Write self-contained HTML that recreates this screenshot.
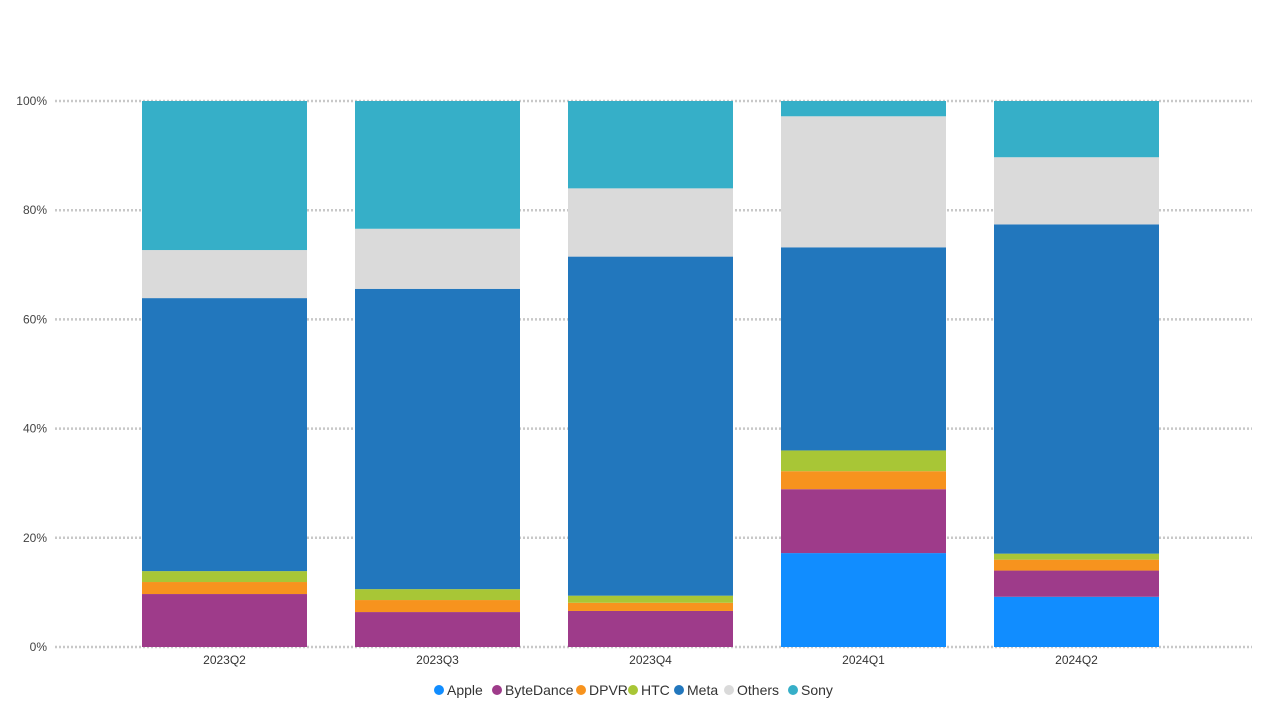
<!DOCTYPE html>
<html><head><meta charset="utf-8"><style>
html,body{margin:0;padding:0;background:#fff;width:1262px;height:720px;overflow:hidden;font-family:"Liberation Sans",sans-serif}
</style></head><body>
<svg id="chart" width="1262" height="720" xmlns="http://www.w3.org/2000/svg"></svg>
<script>
const categories = ["2023Q2","2023Q3","2023Q4","2024Q1","2024Q2"];
const seriesNames = ["Apple","ByteDance","DPVR","HTC","Meta","Others","Sony"];
const apple     = [0, 0, 0, 17.2, 9.2];
const bytedance = [9.7, 6.4, 6.6, 11.7, 4.8];
const dpvr      = [2.2, 2.2, 1.5, 3.3, 2.0];
const htc       = [2.0, 2.0, 1.3, 3.8, 1.1];
const meta      = [50.0, 55.0, 62.1, 37.2, 60.3];
const others    = [8.8, 11.0, 12.5, 24.0, 12.3];
const sony      = [27.3, 23.4, 16.0, 2.8, 10.3];
const tickLabels = ["0%","20%","40%","60%","80%","100%"];
const tickValues = [0,20,40,60,80,100];
const seriesData = [apple, bytedance, dpvr, htc, meta, others, sony];
const colors = ["#118DFF","#9E3B8A","#F7931E","#A8C636","#2277BD","#DADADA","#36AFC8"];

const svg = document.getElementById('chart');
const NS = "http://www.w3.org/2000/svg";
const y0 = 647, y100 = 101;
const yScale = v => y0 - (v/100)*(y0-y100);
const barW = 165, firstX = 142, step = 213;
const xScale = i => firstX + i*step;

function mk(tag, attrs){const e=document.createElementNS(NS,tag);for(const k in attrs)e.setAttribute(k,attrs[k]);svg.appendChild(e);return e;}

tickValues.forEach((v,i)=>{
  const y=yScale(v);
  const g=mk('line',{x1:55,x2:1252,y1:y,y2:y,stroke:'#c8c8c8','stroke-width':2.5,'stroke-dasharray':'2 2'});
  
  
  const t=mk('text',{x:47,y:y+4,'text-anchor':'end','font-size':12,fill:'#444'});
  t.textContent=tickLabels[i];
  
  
});

categories.forEach((c,i)=>{
  let cum=0;
  seriesData.forEach((s,si)=>{
    const v=s[i];
    const yt=yScale(cum+v), yb=yScale(cum);
    cum+=v;
    if(v<=0) return;
    const r=mk('rect',{x:xScale(i),y:yt,width:barW,height:yb-yt,fill:colors[si]});
    
    
  });
  const t=mk('text',{x:xScale(i)+barW/2,y:664,'text-anchor':'middle','font-size':12,fill:'#333'});
  t.textContent=c;
  
  
});

// legend
const widths=[58,84,52,46,50,64,40];
let total=widths.reduce((a,b)=>a+b,0);
let lx=631-total/2;
seriesNames.forEach((n,i)=>{
  const c=mk('circle',{cx:lx+5,cy:690,r:5,fill:colors[i]});
  
  
  const t=mk('text',{x:lx+13,y:695,'font-size':14,fill:'#333'});
  t.textContent=n;
  
  
  lx+=widths[i];
});
</script>
</body></html>
